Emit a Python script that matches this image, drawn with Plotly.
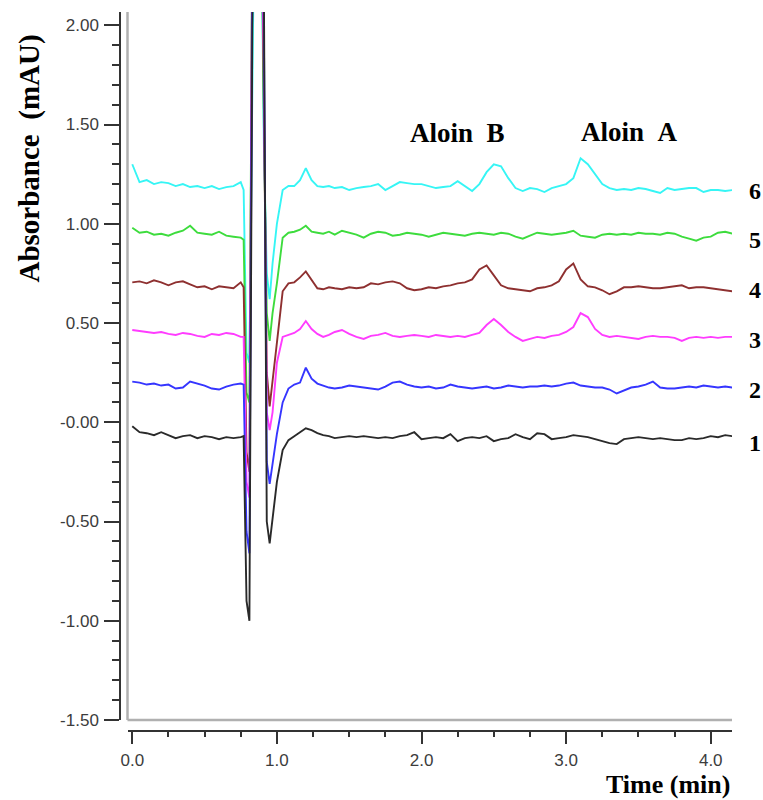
import plotly.graph_objects as go

# ---------------- data ----------------
TIME = [0.00, 0.05, 0.10, 0.15, 0.20, 0.25, 0.30, 0.35, 0.40, 0.45, 0.50, 0.55, 0.60, 0.65, 0.70, 0.75,
        0.77, 0.79, 0.81, 0.83, 0.85, 0.87, 0.89, 0.91, 0.93, 0.95, 0.97, 1.00,
        1.04, 1.08, 1.12, 1.16, 1.20, 1.24, 1.28, 1.32, 1.36, 1.40,
        1.45, 1.50, 1.55, 1.60, 1.65, 1.70, 1.75, 1.80, 1.85, 1.90, 1.95, 2.00,
        2.05, 2.10, 2.15, 2.20, 2.25, 2.30, 2.35, 2.40, 2.45, 2.50, 2.55, 2.60,
        2.65, 2.70, 2.75, 2.80, 2.85, 2.90, 2.95, 3.00, 3.05, 3.10, 3.15, 3.20,
        3.25, 3.30, 3.35, 3.40, 3.45, 3.50, 3.55, 3.60, 3.65, 3.70, 3.75, 3.80,
        3.85, 3.90, 3.95, 4.00, 4.05, 4.10, 4.15]

SAMPLE_6 = [1.30, 1.21, 1.22, 1.20, 1.21, 1.205, 1.19, 1.20, 1.185, 1.19, 1.18, 1.19, 1.175, 1.185, 1.19, 1.21,
            1.17, 0.35, 0.30, 2.6, 3.0, 3.0, 2.7, 1.4, 0.75, 0.62, 0.80, 1.00,
            1.17, 1.19, 1.19, 1.22, 1.28, 1.22, 1.19, 1.185, 1.19, 1.18,
            1.185, 1.17, 1.18, 1.185, 1.19, 1.20, 1.17, 1.19, 1.21, 1.205, 1.20, 1.20,
            1.19, 1.18, 1.185, 1.19, 1.215, 1.19, 1.165, 1.20, 1.26, 1.30, 1.29, 1.23,
            1.18, 1.165, 1.18, 1.175, 1.16, 1.18, 1.19, 1.20, 1.23, 1.33, 1.30, 1.25,
            1.20, 1.18, 1.17, 1.175, 1.17, 1.18, 1.175, 1.165, 1.155, 1.18, 1.17, 1.175,
            1.18, 1.18, 1.16, 1.17, 1.17, 1.165, 1.17]

SAMPLE_5 = [0.98, 0.955, 0.96, 0.945, 0.95, 0.94, 0.955, 0.965, 0.99, 0.955, 0.95, 0.945, 0.96, 0.94, 0.935, 0.93,
            0.92, 0.15, 0.10, 2.4, 3.0, 3.0, 2.8, 1.5, 0.55, 0.41, 0.55, 0.70,
            0.93, 0.955, 0.96, 0.97, 0.99, 0.96, 0.955, 0.95, 0.96, 0.945,
            0.965, 0.955, 0.945, 0.93, 0.95, 0.96, 0.955, 0.94, 0.945, 0.955, 0.95, 0.945,
            0.935, 0.945, 0.955, 0.95, 0.945, 0.94, 0.95, 0.955, 0.95, 0.945, 0.955, 0.95,
            0.935, 0.925, 0.94, 0.955, 0.95, 0.945, 0.95, 0.955, 0.965, 0.94, 0.935, 0.93,
            0.945, 0.95, 0.945, 0.95, 0.945, 0.955, 0.95, 0.95, 0.945, 0.955, 0.95, 0.935,
            0.925, 0.915, 0.93, 0.935, 0.955, 0.96, 0.95]

SAMPLE_4 = [0.705, 0.71, 0.70, 0.715, 0.705, 0.69, 0.705, 0.71, 0.695, 0.68, 0.685, 0.67, 0.685, 0.68, 0.675, 0.705,
            0.68, -0.15, -0.25, 2.5, 3.0, 3.0, 2.9, 1.6, 0.25, 0.08, 0.22, 0.40,
            0.66, 0.70, 0.705, 0.73, 0.76, 0.72, 0.675, 0.67, 0.68, 0.675,
            0.67, 0.68, 0.675, 0.68, 0.70, 0.695, 0.705, 0.71, 0.70, 0.675, 0.665, 0.67,
            0.68, 0.675, 0.685, 0.69, 0.70, 0.705, 0.72, 0.77, 0.79, 0.74, 0.69, 0.675,
            0.67, 0.665, 0.66, 0.675, 0.68, 0.69, 0.71, 0.77, 0.80, 0.72, 0.685, 0.68,
            0.665, 0.645, 0.66, 0.68, 0.68, 0.685, 0.68, 0.675, 0.675, 0.68, 0.685, 0.69,
            0.675, 0.68, 0.68, 0.675, 0.67, 0.665, 0.66]

SAMPLE_3 = [0.465, 0.46, 0.455, 0.45, 0.455, 0.445, 0.44, 0.45, 0.445, 0.435, 0.43, 0.445, 0.44, 0.45, 0.445, 0.43,
            0.43, -0.30, -0.38, 2.4, 3.0, 3.0, 2.9, 1.8, 0.05, -0.04, 0.05, 0.30,
            0.43, 0.44, 0.45, 0.47, 0.51, 0.47, 0.445, 0.43, 0.44, 0.455,
            0.465, 0.445, 0.43, 0.42, 0.435, 0.44, 0.45, 0.435, 0.43, 0.435, 0.44, 0.435,
            0.43, 0.44, 0.435, 0.43, 0.435, 0.43, 0.44, 0.45, 0.49, 0.52, 0.49, 0.455,
            0.43, 0.41, 0.42, 0.43, 0.425, 0.435, 0.44, 0.455, 0.48, 0.55, 0.53, 0.47,
            0.44, 0.43, 0.435, 0.43, 0.425, 0.42, 0.43, 0.435, 0.43, 0.43, 0.425, 0.41,
            0.425, 0.43, 0.425, 0.43, 0.425, 0.43, 0.43]

SAMPLE_2 = [0.205, 0.20, 0.19, 0.195, 0.185, 0.19, 0.17, 0.175, 0.205, 0.195, 0.185, 0.17, 0.165, 0.18, 0.19, 0.195,
            0.19, -0.55, -0.66, 2.2, 3.0, 3.0, 2.9, 2.0, -0.20, -0.31, -0.20, -0.06,
            0.10, 0.17, 0.19, 0.20, 0.275, 0.22, 0.195, 0.185, 0.175, 0.17,
            0.175, 0.185, 0.18, 0.175, 0.17, 0.165, 0.18, 0.20, 0.205, 0.19, 0.18, 0.175,
            0.18, 0.17, 0.175, 0.19, 0.18, 0.175, 0.17, 0.175, 0.18, 0.17, 0.175, 0.185,
            0.18, 0.175, 0.18, 0.18, 0.185, 0.18, 0.185, 0.195, 0.20, 0.185, 0.18, 0.175,
            0.175, 0.165, 0.145, 0.16, 0.175, 0.18, 0.19, 0.205, 0.175, 0.17, 0.17, 0.175,
            0.18, 0.175, 0.185, 0.18, 0.175, 0.18, 0.175]

SAMPLE_1 = [-0.02, -0.05, -0.055, -0.065, -0.05, -0.065, -0.08, -0.07, -0.065, -0.08, -0.07, -0.075, -0.085, -0.075, -0.08, -0.075,
            -0.07, -0.90, -1.00, 2.0, 3.0, 3.0, 3.0, 2.2, -0.50, -0.61, -0.48, -0.30,
            -0.14, -0.09, -0.07, -0.05, -0.03, -0.04, -0.055, -0.065, -0.07, -0.08,
            -0.075, -0.07, -0.075, -0.07, -0.075, -0.08, -0.075, -0.08, -0.07, -0.065, -0.05, -0.085,
            -0.08, -0.075, -0.08, -0.06, -0.095, -0.08, -0.075, -0.08, -0.07, -0.095, -0.085, -0.08,
            -0.06, -0.075, -0.085, -0.055, -0.06, -0.085, -0.08, -0.075, -0.065, -0.07, -0.075, -0.085,
            -0.095, -0.105, -0.11, -0.085, -0.08, -0.075, -0.08, -0.085, -0.08, -0.085, -0.09, -0.09,
            -0.08, -0.085, -0.08, -0.07, -0.075, -0.065, -0.07]

SERIES_NAMES = ["1", "2", "3", "4", "5", "6"]
SERIES = [SAMPLE_1, SAMPLE_2, SAMPLE_3, SAMPLE_4, SAMPLE_5, SAMPLE_6]
COLORS = ["#2a2a2a", "#3535ff", "#ff3cff", "#8e3030", "#3ddc3d", "#36f5f5"]

Y_TICKS = [2.0, 1.5, 1.0, 0.5, 0.0, -0.5, -1.0, -1.5]
Y_TICK_TEXT = ["2.00", "1.50", "1.00", "0.50", "-0.00", "-0.50", "-1.00", "-1.50"]
X_TICKS = [0.0, 1.0, 2.0, 3.0, 4.0]
X_TICK_TEXT = ["0.0", "1.0", "2.0", "3.0", "4.0"]

PEAK_NAMES = ["Aloin B", "Aloin A"]

# ---------------- layout geometry ----------------
W, H = 763, 800
ML, MR, MT, MB = 120, 31, 12, 69
PW, PH = W - ML - MR, H - MT - MB
XD0 = 7.5 / PW
YD0 = 11 / PH


def px(xp):   # window pixel x -> paper fraction
    return (xp - ML) / PW


def py(yp):   # window pixel y -> paper fraction
    return (H - MB - yp) / PH


fig = go.Figure()
for name, vals, col in reversed(list(zip(SERIES_NAMES, SERIES, COLORS))):
    fig.add_trace(go.Scatter(x=TIME, y=vals, mode="lines", name=name,
                             line=dict(color=col, width=1.9), showlegend=False,
                             hoverinfo="skip"))

tick_font = dict(family="Liberation Sans, Arial, sans-serif", size=17, color="#3c3c3c")
serif = "Liberation Serif, Times New Roman, serif"

fig.update_layout(
    width=W, height=H,
    margin=dict(l=ML, r=MR, t=MT, b=MB, pad=0, autoexpand=False),
    paper_bgcolor="white", plot_bgcolor="white",
    showlegend=False,
    xaxis=dict(
        domain=[XD0, 1], range=[-0.033, 4.147], anchor="free", position=0,
        showgrid=False, zeroline=False, automargin=False,
        showline=True, linecolor="#333", linewidth=1.5,
        tickvals=X_TICKS, ticktext=X_TICK_TEXT,
        ticks="outside", ticklen=12, tickwidth=1.5, tickcolor="#333",
        tickfont=tick_font, ticklabelstandoff=2,
        minor=dict(dtick=0.25, tick0=0, ticks="outside", ticklen=5, tickwidth=1.5, tickcolor="#333", showgrid=False),
    ),
    yaxis=dict(
        domain=[YD0, 1], range=[-1.5, 2.067], anchor="free", position=0,
        showgrid=False, zeroline=False, automargin=False,
        showline=True, linecolor="#333", linewidth=1.5,
        tickvals=Y_TICKS, ticktext=Y_TICK_TEXT,
        ticks="outside", ticklen=15, tickwidth=1.5, tickcolor="#333",
        tickfont=tick_font, ticklabelstandoff=2,
        minor=dict(dtick=0.1, tick0=0, ticks="outside", ticklen=7, tickwidth=1.5, tickcolor="#333", showgrid=False),
    ),
    shapes=[
        dict(type="line", xref="paper", yref="paper", x0=XD0, x1=XD0, y0=YD0, y1=1,
             line=dict(color="#b0b0b0", width=2.5), layer="below"),
        dict(type="line", xref="paper", yref="paper", x0=XD0, x1=1, y0=YD0, y1=YD0,
             line=dict(color="#b0b0b0", width=2.5), layer="below"),
    ],
)

ann = []
ann.append(dict(text="<b>Absorbance&nbsp;&nbsp;(mAU)</b>", xref="paper", yref="paper",
                x=px(28.5), y=py(159), xanchor="center", yanchor="middle", textangle=-90,
                showarrow=False, font=dict(family=serif, size=29, color="black")))
ann.append(dict(text="<b>Time (min)</b>", xref="paper", yref="paper",
                x=1.0, y=py(784), xanchor="right", yanchor="middle",
                showarrow=False, font=dict(family=serif, size=26, color="black")))
for name, xp, yp in zip(PEAK_NAMES, [457, 629], [133, 132]):
    ann.append(dict(text=f"<b>{name.replace(' ', '&nbsp;&nbsp;')}</b>", x=px(xp), y=py(yp),
                    xref="paper", yref="paper", xanchor="center", yanchor="middle",
                    showarrow=False, font=dict(family=serif, size=27, color="black")))
for name, yp in zip(SERIES_NAMES, [443, 390, 340, 290, 240, 191]):
    ann.append(dict(text=f"<b>{name}</b>", x=px(755), y=py(yp), xref="paper", yref="paper",
                    xanchor="center", yanchor="middle", showarrow=False,
                    font=dict(family=serif, size=24, color="black")))
fig.update_layout(annotations=ann)

# remove the browser's default 8px body margin so the 763x800 figure fills the window exactly
fig.write_html("out.html", config={"displayModeBar": False},
               post_script="document.body.style.margin='0px';document.body.style.overflow='hidden';")
